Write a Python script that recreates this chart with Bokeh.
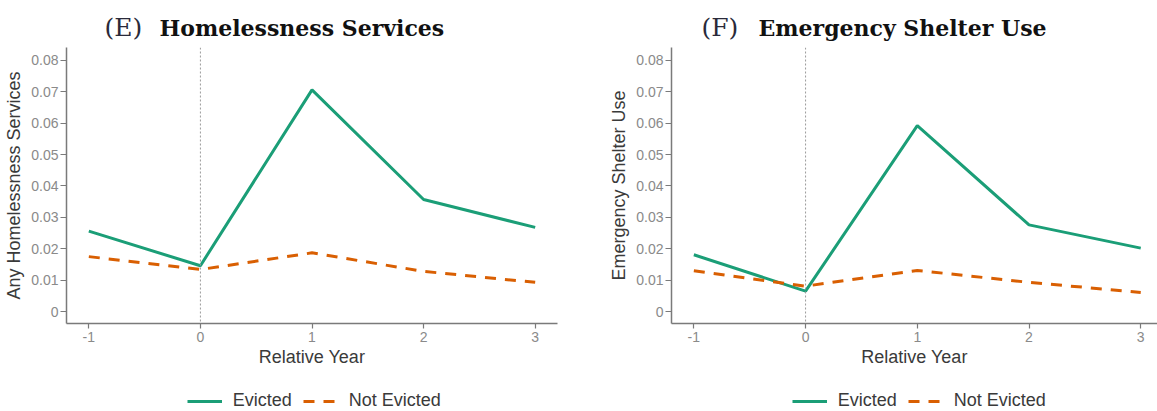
from bokeh.plotting import figure
from bokeh.models import (Range1d, FixedTicker, Span, Label, Legend, LegendItem,
                          ColumnDataSource)
from bokeh.layouts import row, column
from bokeh.embed import file_html
from bokeh.resources import INLINE

# ---------------- data ----------------
years = [-1, 0, 1, 2, 3]
x_tick_labels = ["-1", "0", "1", "2", "3"]
y_ticks = [0, 0.01, 0.02, 0.03, 0.04, 0.05, 0.06, 0.07, 0.08]
y_tick_labels = ["0", "0.01", "0.02", "0.03", "0.04", "0.05", "0.06", "0.07", "0.08"]

homeless_evicted = [0.0256, 0.0146, 0.0706, 0.0357, 0.0268]
homeless_not_evicted = [0.0175, 0.0134, 0.0187, 0.0128, 0.0093]
shelter_evicted = [0.0181, 0.0065, 0.0592, 0.0276, 0.0202]
shelter_not_evicted = [0.0130, 0.0081, 0.0131, 0.0093, 0.0061]

series_labels = ["Evicted", "Not Evicted"]
panel_letters = ["(E)", "(F)"]
panel_titles = ["Homelessness Services", "Emergency Shelter Use"]
y_labels = ["Any Homelessness Services", "Emergency Shelter Use"]
x_label = "Relative Year"

GREEN = "#1b9e77"
ORANGE = "#d95f02"
DASH = "11 9"
SANS = "Liberation Sans"
SERIF = "DejaVu Serif"
W = 1157


def strip(height):
    s = figure(width=W, height=height, output_backend="svg", toolbar_location=None,
               x_range=Range1d(0, W), y_range=Range1d(0, height), title=None,
               x_axis_type=None, y_axis_type=None, min_border=0)
    s.outline_line_color = None
    s.xgrid.visible = False
    s.ygrid.visible = False
    return s


def make_panel(width, x_end, evicted, not_evicted, ylab, border_right):
    p = figure(width=width, height=323, output_backend="svg", toolbar_location=None,
               x_range=Range1d(-1.2, x_end), y_range=Range1d(-0.0038, 0.0841),
               min_border_left=66, min_border_right=border_right,
               min_border_top=0, min_border_bottom=47)
    p.outline_line_color = None
    p.xgrid.visible = False
    p.ygrid.visible = False

    for ax in (p.xaxis[0], p.yaxis[0]):
        ax.axis_line_color = "#7a7a7a"
        ax.axis_line_width = 1.5
        ax.major_tick_line_color = "#7a7a7a"
        ax.major_tick_line_width = 1.2
        ax.major_tick_in = 0
        ax.minor_tick_line_color = None
        ax.major_label_text_font = SANS
        ax.major_label_text_font_size = "14px"
        ax.major_label_text_color = "#8a8a8a"
        ax.axis_label_text_font = SANS
        ax.axis_label_text_font_size = "18px"
        ax.axis_label_text_font_style = "normal"
        ax.axis_label_text_color = "#3a3a3a"

    p.xaxis.ticker = FixedTicker(ticks=years)
    p.xaxis.major_label_overrides = dict(zip(years, x_tick_labels))
    p.xaxis.major_tick_out = 5
    p.xaxis.major_label_standoff = 3
    p.xaxis.axis_label = x_label
    p.xaxis.axis_label_standoff = 2

    p.yaxis.ticker = FixedTicker(ticks=y_ticks)
    p.yaxis.major_label_overrides = dict(zip(y_ticks, y_tick_labels))
    p.yaxis.major_tick_out = 6
    p.yaxis.major_label_standoff = 2
    p.yaxis.axis_label = ylab
    p.yaxis.axis_label_standoff = 4

    p.add_layout(Span(location=0, dimension="height", line_color="#9a9a9a",
                      line_width=1, line_dash="2 2"))

    src = ColumnDataSource(dict(x=years, e=evicted, n=not_evicted))
    p.line("x", "e", source=src, line_color=GREEN, line_width=3)
    p.line("x", "n", source=src, line_color=ORANGE, line_width=3, line_dash=DASH)
    return p


# ---- title strip ----
top = strip(47)
for letter, title, lx, tx in zip(panel_letters, panel_titles, [104, 701], [159, 758]):
    top.add_layout(Label(x=lx, y=20, text=letter, text_font=SERIF,
                         text_font_size="25px", text_color="#2a2a3a",
                         text_baseline="alphabetic"))
    top.add_layout(Label(x=tx, y=20, text=title, text_font=SERIF,
                         text_font_size="22px", text_font_style="bold",
                         text_color="#111111", text_baseline="alphabetic"))

# ---- panels ----
p1 = make_panel(605, 3.2, homeless_evicted, homeless_not_evicted, y_labels[0], 48)
p2 = make_panel(552, 3.15, shelter_evicted, shelter_not_evicted, y_labels[1], 0)

# ---- legend strip ----
bot = strip(41)
nan = float("nan")
src_key = ColumnDataSource(dict(x=[nan], y=[nan]))
le = bot.line("x", "y", source=src_key, line_color=GREEN, line_width=3)
ln = bot.line("x", "y", source=src_key, line_color=ORANGE, line_width=3,
              line_dash=DASH)
for lx in [186.7, 791.7]:
    legend = Legend(items=[LegendItem(label=series_labels[0], renderers=[le]),
                           LegendItem(label=series_labels[1], renderers=[ln])],
                    orientation="horizontal", location=(lx, 0),
                    glyph_width=35, glyph_height=20, label_standoff=11, spacing=11,
                    padding=0, margin=0, border_line_alpha=0,
                    background_fill_alpha=0,
                    label_text_font=SANS, label_text_font_size="18px",
                    label_text_color="#3a3a3a")
    bot.add_layout(legend, "center")

layout = column(top, row(p1, p2), bot)
open("out.html", "w").write(file_html(layout, INLINE))
